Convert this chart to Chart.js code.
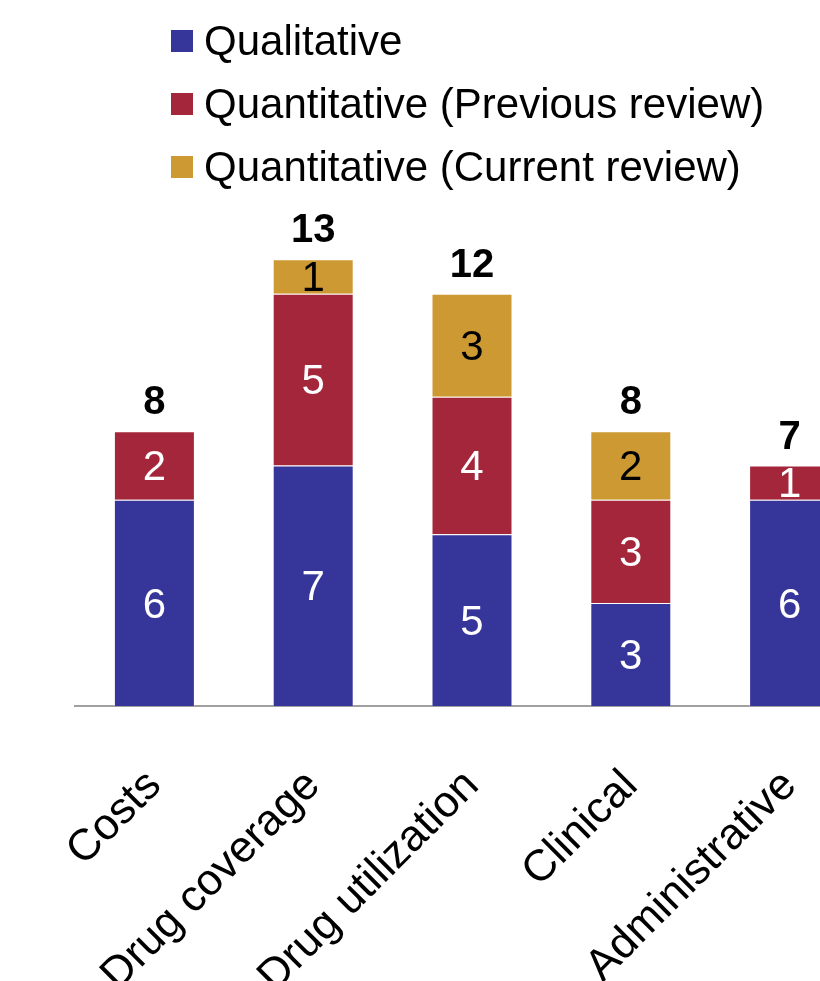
<!DOCTYPE html>
<html>
<head>
<meta charset="utf-8">
<script src="https://cdn.jsdelivr.net/npm/chart.js@4.4.1/dist/chart.umd.min.js"></script>
<style>
  html, body { margin: 0; padding: 0; background: #fff; overflow: hidden; }
  #wrap { width: 820px; height: 981px; overflow: hidden; }
</style>
</head>
<body>
<div id="wrap"><canvas id="studyChart" width="900" height="1060"></canvas></div>
<script>
const categories = ["Costs", "Drug coverage", "Drug utilization", "Clinical", "Administrative"];
const qualitative = [6, 7, 5, 3, 6];
const quantPrevious = [2, 5, 4, 3, 1];
const quantCurrent = [null, 1, 3, 2, null];
const seriesNames = ["Qualitative", "Quantitative (Previous review)", "Quantitative (Current review)"];
const seriesColors = ["#35359a", "#a4263a", "#cc9933"];
const valueColors = ["#ffffff", "#ffffff", "#000000"];

const totals = categories.map((c, i) => (qualitative[i] || 0) + (quantPrevious[i] || 0) + (quantCurrent[i] || 0));

const fontFamily = "'Liberation Sans', Arial, Helvetica, sans-serif";

// legend drawn by hand so the three rows line up on the left like the original
const sideLegend = {
  id: "sideLegend",
  afterDraw(chart) {
    const c = chart.ctx;
    c.save();
    c.font = "42px " + fontFamily;
    c.textBaseline = "middle";
    chart.data.datasets.forEach((ds, i) => {
      const y = 41 + i * 63;
      c.fillStyle = ds.backgroundColor;
      c.fillRect(171, y - 11, 22, 22);
      c.fillStyle = "#000";
      c.fillText(ds.label, 204, y + 2);
    });
    c.restore();
  }
};

// numbers inside each segment plus the bold total on top
const barNumbers = {
  id: "barNumbers",
  afterDatasetsDraw(chart) {
    const c = chart.ctx;
    c.save();
    c.textAlign = "center";
    c.textBaseline = "middle";
    c.font = "42px " + fontFamily;
    chart.data.datasets.forEach((ds, di) => {
      const meta = chart.getDatasetMeta(di);
      meta.data.forEach((bar, i) => {
        const v = ds.data[i];
        if (!v) return;
        c.fillStyle = valueColors[di];
        c.fillText(String(v), bar.x, (bar.y + bar.base) / 2 + 3);
      });
    });
    const yScale = chart.scales.y;
    const xScale = chart.scales.x;
    c.font = "bold 40px " + fontFamily;
    c.fillStyle = "#000";
    c.textBaseline = "alphabetic";
    totals.forEach((t, i) => {
      c.fillText(String(t), xScale.getPixelForValue(i), yScale.getPixelForValue(t) - 17);
    });
    c.restore();
  }
};

const ctx = document.getElementById("studyChart").getContext("2d");
const chart = new Chart(ctx, {
  type: "bar",
  data: {
    labels: categories,
    datasets: [qualitative, quantPrevious, quantCurrent].map((vals, i) => ({
      label: seriesNames[i],
      data: vals,
      backgroundColor: seriesColors[i],
      borderColor: "rgba(255,255,255,0.35)",
      borderWidth: 1,
      categoryPercentage: 1,
      barPercentage: 0.51
    }))
  },
  options: {
    responsive: false,
    animation: false,
    devicePixelRatio: 1,
    layout: { padding: { top: 225, left: 75, right: 31, bottom: 0 } },
    plugins: {
      legend: { display: false },
      tooltip: { enabled: false }
    },
    scales: {
      x: {
        stacked: true,
        grid: { display: false, drawTicks: false },
        border: { display: true, color: "#a0a0a0", width: 2 },
        ticks: {
          color: "#000",
          font: { family: fontFamily, size: 44 },
          minRotation: 45,
          maxRotation: 45,
          padding: 54,
          autoSkip: false
        },
        afterFit(scale) { scale.height = 354; }
      },
      y: {
        stacked: true,
        display: false,
        min: 0,
        max: 14
      }
    }
  },
  plugins: [sideLegend, barNumbers]
});
</script>
</body>
</html>
